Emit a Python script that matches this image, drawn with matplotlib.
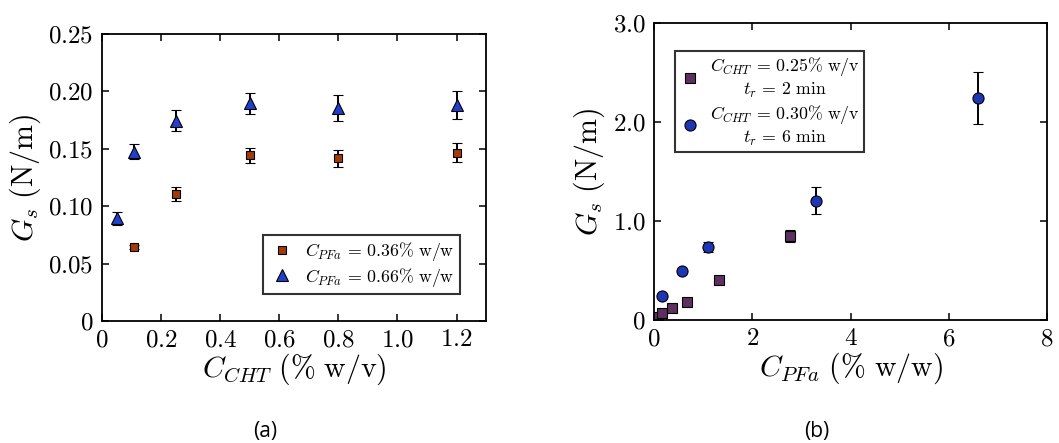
import numpy as np
import matplotlib
matplotlib.use('Agg')
import matplotlib.pyplot as plt

plt.rcParams['mathtext.fontset'] = 'cm'
plt.rcParams['font.family'] = 'serif'
plt.rcParams['font.serif'] = ['cmr10', 'DejaVu Serif']

# panel (a): G_s vs C_CHT
cht_sq = [0.11, 0.25, 0.5, 0.8, 1.2]
gs_sq = [0.0645, 0.1106, 0.1443, 0.1417, 0.1466]
err_sq = [0.0015, 0.0058, 0.0063, 0.0075, 0.0085]

cht_tri = [0.05, 0.11, 0.25, 0.5, 0.8, 1.2]
gs_tri = [0.0893, 0.1476, 0.1743, 0.1896, 0.1858, 0.1884]
err_tri = [0.0054, 0.0066, 0.0092, 0.0090, 0.0113, 0.0122]

# panel (b): G_s vs C_PFa
pfa_sq = [0.08, 0.16, 0.37, 0.67, 1.33, 2.76]
gs_b_sq = [0.034, 0.074, 0.118, 0.18, 0.40, 0.845]
err_b_sq = [0.005, 0.008, 0.01, 0.01, 0.015, 0.06]

pfa_ci = [0.17, 0.56, 1.10, 3.29, 6.59]
gs_b_ci = [0.24, 0.49, 0.735, 1.205, 2.24]
err_b_ci = [0.015, 0.02, 0.05, 0.135, 0.26]

xt_a = [0, 0.2, 0.4, 0.6, 0.8, 1.0, 1.2]
xt_a_lab = ['$0$', '$0.2$', '$0.4$', '$0.6$', '$0.8$', '$1.0$', '$1.2$']
yt_a = [0, 0.05, 0.10, 0.15, 0.20, 0.25]
yt_a_lab = ['$0$', '$0.05$', '$0.10$', '$0.15$', '$0.20$', '$0.25$']
xt_b = [0, 2, 4, 6, 8]
xt_b_lab = ['$0$', '$2$', '$4$', '$6$', '$8$']
yt_b = [0, 1, 2, 3]
yt_b_lab = ['$0$', '$1.0$', '$2.0$', '$3.0$']

fig = plt.figure(figsize=(10.59, 4.43), dpi=100)
ax1 = fig.add_axes([0.0963, 0.2754, 0.3627, 0.6479])
ax2 = fig.add_axes([0.6176, 0.2777, 0.3711, 0.6704])

ebkw = dict(ls='none', ecolor='black', elinewidth=1.4, capsize=3.6, capthick=1.4,
            markeredgecolor='black', markeredgewidth=0.8)

e1 = ax1.errorbar(cht_sq, gs_sq, yerr=err_sq, marker='s', ms=6.2, mfc='#a33a0a',
                  label=r'$C_{PFa}\,=\,0.36\%\ \mathrm{w/w}$', **ebkw)
e2 = ax1.errorbar(cht_tri, gs_tri, yerr=err_tri, marker='^', ms=8.5, mfc='#1f3fcc',
                  label=r'$C_{PFa}\,=\,0.66\%\ \mathrm{w/w}$', **ebkw)
ax1.set_xlim(0, 1.3)
ax1.set_ylim(0, 0.25)
ax1.set_xticks(xt_a, xt_a_lab)
ax1.set_yticks(yt_a, yt_a_lab)
ax1.set_xlabel(r'$C_{CHT}\ (\%\ \mathrm{w/v})$', fontsize=21.5, labelpad=0)
ax1.set_ylabel(r'$G_s\ (\mathrm{N/m})$', fontsize=21.5, labelpad=4)
leg1 = ax1.legend(handles=[e1[0], e2[0]], labels=[e1.get_label(), e2.get_label()],
                  loc='lower right', bbox_to_anchor=(0.932, 0.094), fontsize=12.8,
                  fancybox=False, framealpha=1, edgecolor='#333333',
                  handlelength=1.6, handletextpad=0.5, borderpad=0.3,
                  labelspacing=0.15, borderaxespad=0)
leg1.get_frame().set_linewidth(1.5)

e3 = ax2.errorbar(pfa_sq, gs_b_sq, yerr=err_b_sq, marker='s', ms=7, mfc='#5e3060',
                  label=r'$C_{CHT}\,=\,0.25\%\ \mathrm{w/v}$' + '\n' + r'$t_r\,=\,2\ \mathrm{min}$',
                  **ebkw)
e4 = ax2.errorbar(pfa_ci, gs_b_ci, yerr=err_b_ci, marker='o', ms=8, mfc='#1c36b4',
                  label=r'$C_{CHT}\,=\,0.30\%\ \mathrm{w/v}$' + '\n' + r'$t_r\,=\,6\ \mathrm{min}$',
                  **ebkw)
ax2.set_xlim(0, 8)
ax2.set_ylim(0, 3)
ax2.set_xticks(xt_b, xt_b_lab)
ax2.set_yticks(yt_b, yt_b_lab)
ax2.set_xlabel(r'$C_{PFa}\ (\%\ \mathrm{w/w})$', fontsize=21.5, labelpad=0)
ax2.set_ylabel(r'$G_s\ (\mathrm{N/m})$', fontsize=21.5, labelpad=4)
leg2 = ax2.legend(handles=[e3[0], e4[0]], labels=[e3.get_label(), e4.get_label()],
                  loc='upper left', bbox_to_anchor=(0.053, 0.906), fontsize=12.8,
                  fancybox=False, framealpha=1, edgecolor='#333333',
                  handlelength=1.2, handletextpad=0.5, borderpad=0.25,
                  labelspacing=0.15, borderaxespad=0)
leg2.get_frame().set_linewidth(1.5)
for t in leg2.get_texts():
    t.set_multialignment('center')

for ax in (ax1, ax2):
    ax.tick_params(direction='in', length=5, width=1.1, top=True, right=True,
                   labelsize=18, pad=6)
    for s in ax.spines.values():
        s.set_linewidth(1.3)

fig.text(265 / 1059, 1 - 432 / 443, '(a)', ha='center', va='center',
         fontsize=15, family='Open Sans')
fig.text(817 / 1059, 1 - 432 / 443, '(b)', ha='center', va='center',
         fontsize=15, family='Open Sans')

fig.savefig('out.png', dpi=100)
